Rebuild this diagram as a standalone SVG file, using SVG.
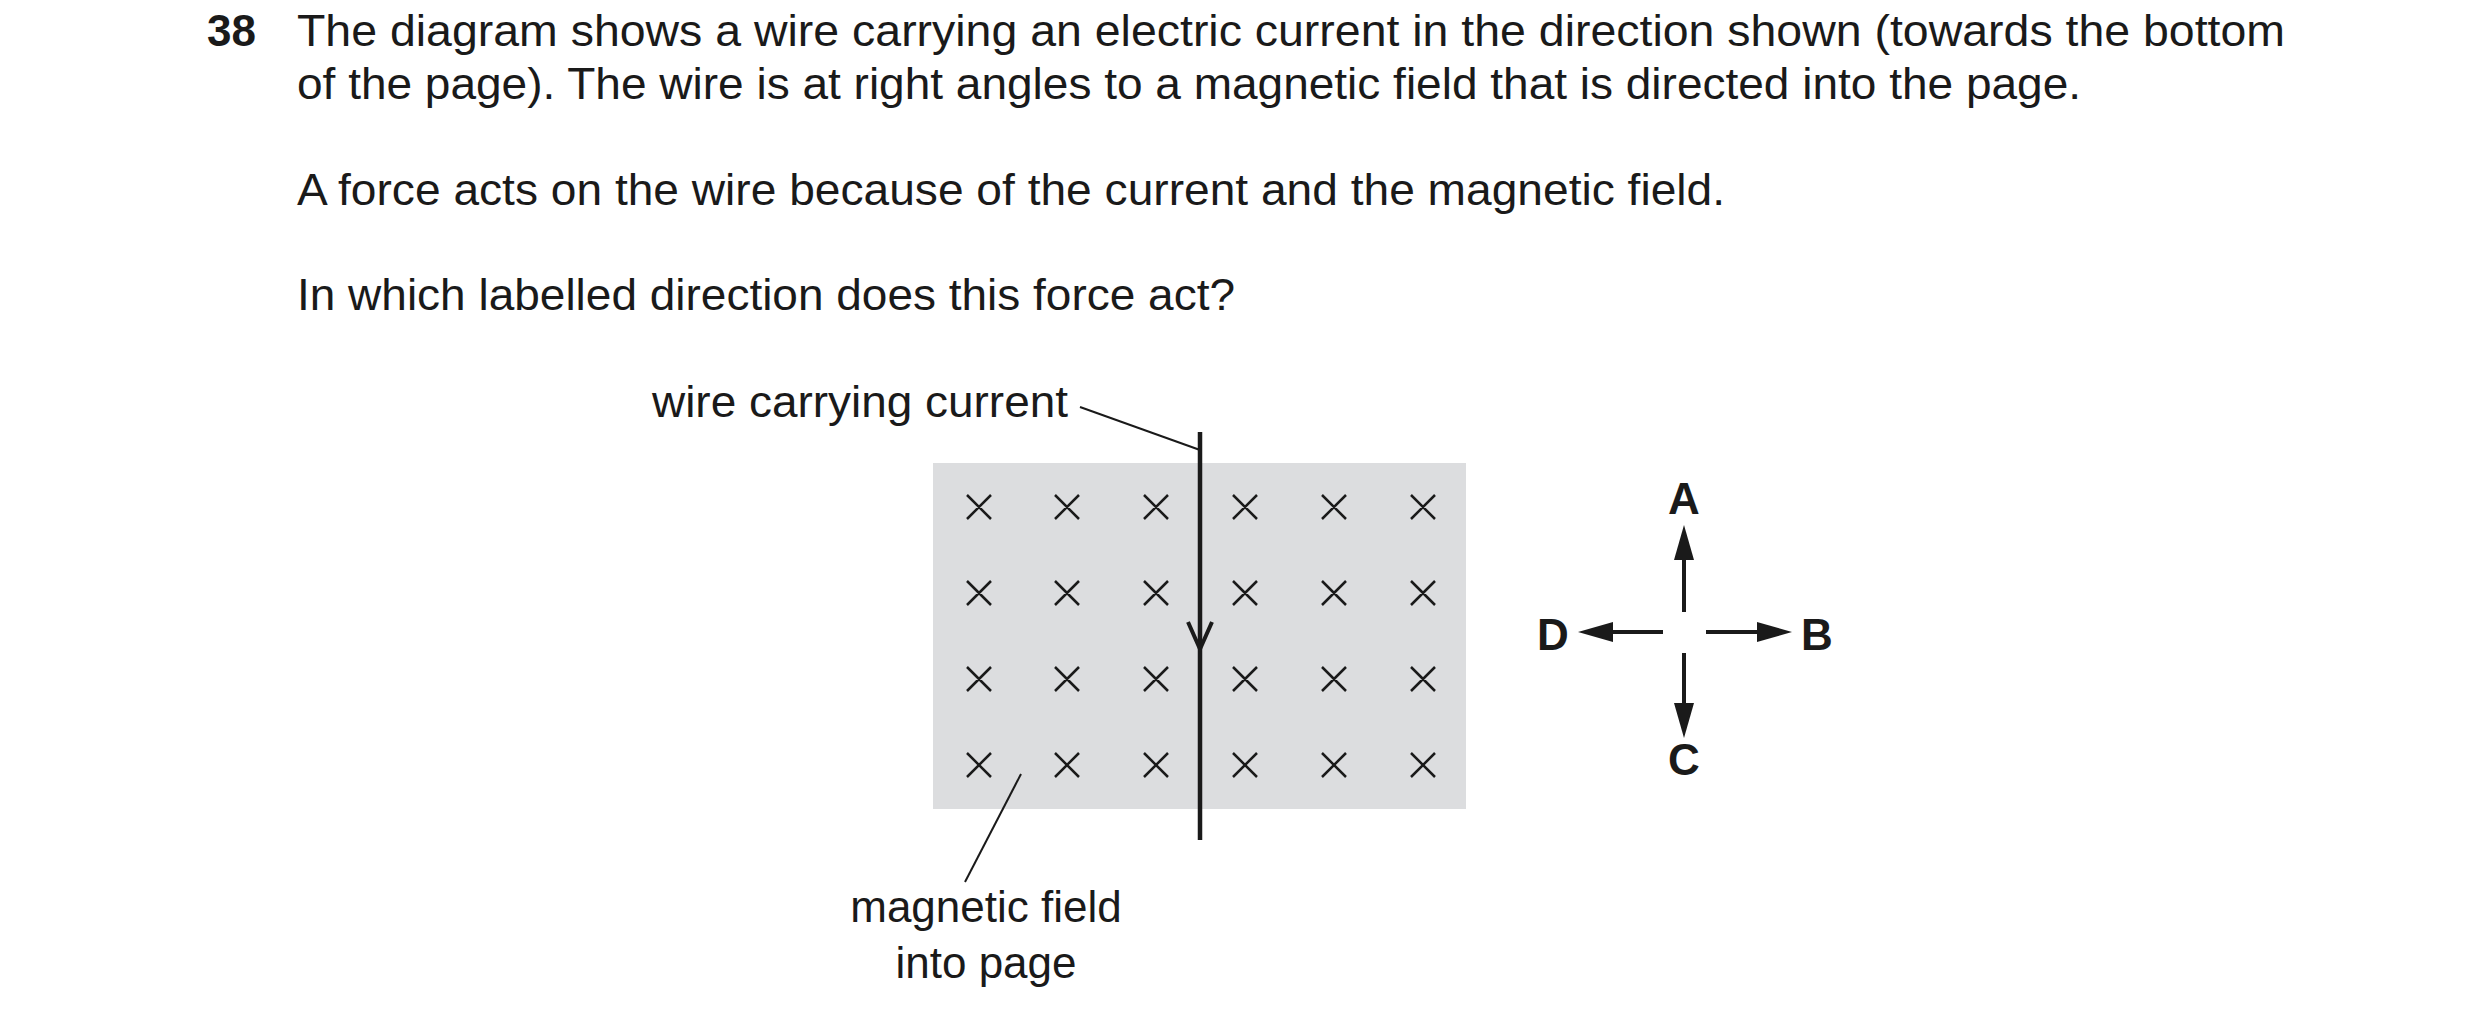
<svg xmlns="http://www.w3.org/2000/svg" width="2480" height="1023" viewBox="0 0 2480 1023">
<style>
.t{font-family:"Liberation Sans",Arial,sans-serif;font-size:44px;fill:#1a1a1a}
.b{font-family:"Liberation Sans",Arial,sans-serif;font-size:44px;font-weight:bold;fill:#1a1a1a}
.x{stroke:#1a1a1a;stroke-width:2.5;fill:none}
.ln{stroke:#1a1a1a;fill:none}
</style>
<rect width="2480" height="1023" fill="#fff"/>
<g id="question">
<text class="b" x="207" y="46">38</text>
<text class="t" x="297" y="46" textLength="1988" lengthAdjust="spacingAndGlyphs">The diagram shows a wire carrying an electric current in the direction shown (towards the bottom</text>
<text class="t" x="297" y="99" textLength="1784" lengthAdjust="spacingAndGlyphs">of the page). The wire is at right angles to a magnetic field that is directed into the page.</text>
<text class="t" x="297" y="205" textLength="1428" lengthAdjust="spacingAndGlyphs">A force acts on the wire because of the current and the magnetic field.</text>
<text class="t" x="297" y="310" textLength="938" lengthAdjust="spacingAndGlyphs">In which labelled direction does this force act?</text>
</g>
<g id="field">
<rect x="933" y="463" width="533" height="346" fill="#dcdddf"/>
<g id="crosses">
<path class="x" d="M967 495l24 24m0 -24l-24 24M1055 495l24 24m0 -24l-24 24M1144 495l24 24m0 -24l-24 24M1233 495l24 24m0 -24l-24 24M1322 495l24 24m0 -24l-24 24M1411 495l24 24m0 -24l-24 24"/>
<path class="x" d="M967 581l24 24m0 -24l-24 24M1055 581l24 24m0 -24l-24 24M1144 581l24 24m0 -24l-24 24M1233 581l24 24m0 -24l-24 24M1322 581l24 24m0 -24l-24 24M1411 581l24 24m0 -24l-24 24"/>
<path class="x" d="M967 667l24 24m0 -24l-24 24M1055 667l24 24m0 -24l-24 24M1144 667l24 24m0 -24l-24 24M1233 667l24 24m0 -24l-24 24M1322 667l24 24m0 -24l-24 24M1411 667l24 24m0 -24l-24 24"/>
<path class="x" d="M967 753l24 24m0 -24l-24 24M1055 753l24 24m0 -24l-24 24M1144 753l24 24m0 -24l-24 24M1233 753l24 24m0 -24l-24 24M1322 753l24 24m0 -24l-24 24M1411 753l24 24m0 -24l-24 24"/>
</g>
</g>
<g id="wire">
<line class="ln" x1="1200" y1="432" x2="1200" y2="840" stroke-width="4.5"/>
<path class="ln" d="M1188 622L1200 649L1212 622" stroke-width="4"/>
</g>
<g id="labels">
<text class="t" x="652" y="417" textLength="416" lengthAdjust="spacingAndGlyphs">wire carrying current</text>
<text class="t" x="986" y="922" text-anchor="middle">magnetic field</text>
<text class="t" x="986" y="978" text-anchor="middle">into page</text>
</g>
<g id="connectors">
<line class="ln" x1="1080" y1="407" x2="1200" y2="450" stroke-width="2"/>
<line class="ln" x1="1021" y1="774" x2="965" y2="882" stroke-width="2"/>
</g>
<g id="compass">
<g stroke="#1a1a1a" stroke-width="4">
<line x1="1684" y1="612" x2="1684" y2="555"/>
<line x1="1684" y1="653" x2="1684" y2="705"/>
<line x1="1663" y1="632" x2="1608" y2="632"/>
<line x1="1706" y1="632" x2="1760" y2="632"/>
</g>
<g fill="#1a1a1a">
<polygon points="1684,525 1674,560 1694,560"/>
<polygon points="1684,738 1674,703 1694,703"/>
<polygon points="1578,632 1613,622 1613,642"/>
<polygon points="1792,632 1757,622 1757,642"/>
</g>
<text class="b" x="1684" y="514" text-anchor="middle">A</text>
<text class="b" x="1801" y="650">B</text>
<text class="b" x="1684" y="775" text-anchor="middle">C</text>
<text class="b" x="1537" y="650">D</text>
</g>
</svg>
